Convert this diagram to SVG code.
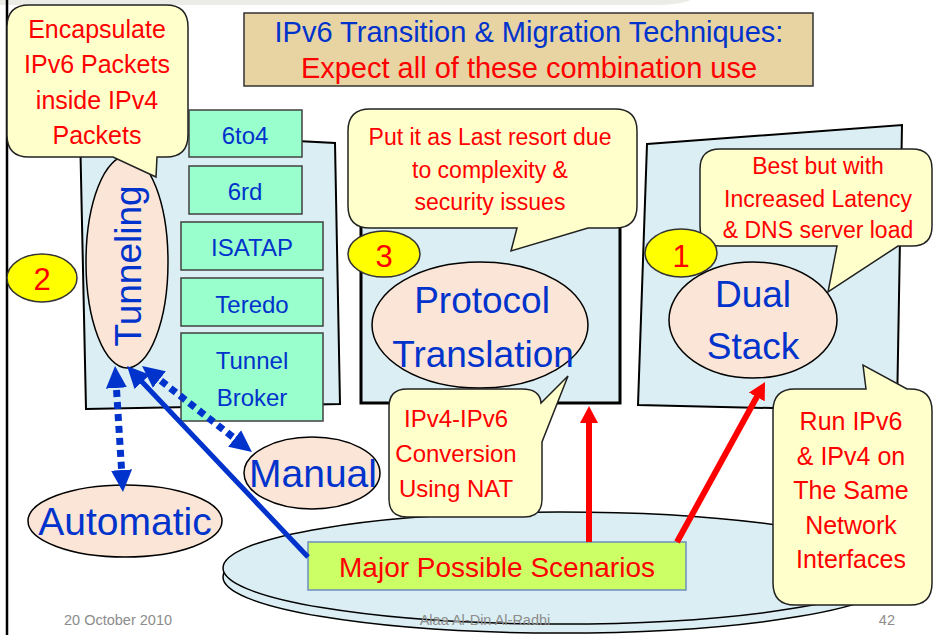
<svg xmlns="http://www.w3.org/2000/svg" width="934" height="635" viewBox="0 0 934 635">
<defs>
<style>
text{font-family:"Liberation Sans",Arial,sans-serif;text-anchor:middle}
.panel{fill:#daeef3;stroke:#000;stroke-width:2}
.box{fill:#99ffcc;stroke:#404040;stroke-width:1.5}
.oval{fill:#fbe5d6;stroke:#000;stroke-width:1.5}
.call{fill:#ffffcc;stroke:#222;stroke-width:1.5}
.num{fill:#ffff00;stroke:#333;stroke-width:1.5}
.b{fill:#0033cc}
.r{fill:#ff0000}
.ft{fill:#8c8c8c;font-size:14.5px}
.redline{stroke:#ff0000;stroke-width:6;fill:none}
.blueline{stroke:#0033cc;stroke-width:5;fill:none}
.dots{stroke:#0033cc;stroke-width:7;stroke-dasharray:7 5;fill:none}
</style>
<marker id="rh" markerUnits="userSpaceOnUse" markerWidth="18" markerHeight="18" refX="7" refY="9" orient="auto">
<path d="M0,0 L17,9 L0,18 Z" fill="#ff0000"/>
</marker>
<marker id="bh" markerUnits="userSpaceOnUse" markerWidth="23" markerHeight="21" refX="10" refY="10.5" orient="auto-start-reverse">
<path d="M0,0 L22,10.5 L0,21 Z" fill="#0033cc"/>
</marker>
</defs>
<rect width="934" height="635" fill="#fff"/>
<path d="M0,0 H690 Q684,4 660,5 H0 Z" fill="#ecece6"/>
<line x1="7" y1="0" x2="7" y2="635" stroke="#000" stroke-width="2.5"/>

<g id="title">
<rect x="244" y="13" width="569" height="73" fill="#e8d3a2" stroke="#333" stroke-width="1.5"/>
<text x="529" y="42" class="b" font-size="29">IPv6 Transition &amp; Migration Techniques:</text>
<text x="529" y="78" class="r" font-size="29">Expect all of these combination use</text>
</g>

<g id="tunneling-panel">
<path class="panel" d="M80,130 L335,143 L340,404 L86,409 Z"/>
</g>
<g id="box-6to4"><rect class="box" x="189" y="110" width="113" height="47"/><text x="245" y="144" class="b" font-size="24">6to4</text></g>
<g id="box-6rd"><rect class="box" x="189" y="166" width="113" height="48"/><text x="245" y="200" class="b" font-size="24">6rd</text></g>
<g id="box-isatap"><rect class="box" x="181" y="222" width="142" height="48"/><text x="252" y="256" class="b" font-size="24">ISATAP</text></g>
<g id="box-teredo"><rect class="box" x="181" y="278" width="142" height="48"/><text x="252" y="313" class="b" font-size="24">Teredo</text></g>
<g id="box-broker"><rect class="box" x="181" y="333" width="142" height="88"/><text x="252" y="369" class="b" font-size="24">Tunnel</text><text x="252" y="406" class="b" font-size="24">Broker</text></g>
<g id="tunneling">
<ellipse class="oval" cx="127" cy="262" rx="41" ry="106"/>
<text transform="translate(141,266) rotate(-90)" class="b" font-size="37">Tunneling</text>
</g>
<g id="callout-encapsulate">
<path class="call" d="M29,5 H166 Q188,5 188,27 V135 Q188,157 166,157 H157 L156,177 L113,157 H29 Q7,157 7,135 V27 Q7,5 29,5 Z"/>
<text x="97" y="38" class="r" font-size="25">Encapsulate</text>
<text x="97" y="73" class="r" font-size="25">IPv6 Packets</text>
<text x="97" y="109" class="r" font-size="25">inside IPv4</text>
<text x="97" y="144" class="r" font-size="25">Packets</text>
</g>
<g id="num-2"><ellipse class="num" cx="42" cy="278" rx="35" ry="24"/><text x="42" y="290" class="r" font-size="31">2</text></g>

<g id="translation-panel">
<rect x="361" y="150" width="259" height="253" fill="#daeef3" stroke="#000" stroke-width="3"/>
</g>
<g id="callout-lastresort">
<path class="call" d="M370,109 H615 Q637,109 637,131 V206 Q637,228 615,228 H588 L511,251 L517,228 H370 Q348,228 348,206 V131 Q348,109 370,109 Z"/>
<text x="490" y="145" class="r" font-size="23">Put it as Last resort due</text>
<text x="490" y="178" class="r" font-size="23">to complexity &amp;</text>
<text x="490" y="210" class="r" font-size="23">security issues</text>
</g>
<g id="num-3"><ellipse class="num" cx="384" cy="254" rx="36" ry="23"/><text x="384" y="267" class="r" font-size="31">3</text></g>
<g id="protocol-translation">
<ellipse class="oval" cx="480" cy="325" rx="108" ry="63"/>
<text x="482" y="313" class="b" font-size="37">Protocol</text>
<text x="483" y="367" class="b" font-size="37">Translation</text>
</g>

<g id="dualstack-panel">
<path class="panel" d="M647,144 L902,125 L897,411 L638,405 Z"/>
</g>
<g id="callout-best">
<path class="call" d="M720,149 H912 Q932,149 932,169 V226 Q932,246 912,246 H898 L828,292 L837,246 H720 Q700,246 700,226 V169 Q700,149 720,149 Z"/>
<text x="818" y="174" class="r" font-size="23">Best but with</text>
<text x="818" y="207" class="r" font-size="23">Increased Latency</text>
<text x="818" y="238" class="r" font-size="23">&amp; DNS server load</text>
</g>
<g id="num-1"><ellipse class="num" cx="681" cy="253" rx="36" ry="24"/><text x="681" y="267" class="r" font-size="31">1</text></g>
<g id="dual-stack">
<ellipse class="oval" cx="753" cy="320" rx="84" ry="58"/>
<text x="753" y="307" class="b" font-size="37">Dual</text>
<text x="753" y="359" class="b" font-size="37">Stack</text>
</g>

<g id="manual"><ellipse class="oval" cx="312" cy="473" rx="68" ry="36"/><text x="313" y="487" class="b" font-size="39">Manual</text></g>
<g id="automatic"><ellipse class="oval" cx="125" cy="521" rx="97" ry="36"/><text x="125" y="535" class="b" font-size="39">Automatic</text></g>

<g id="platform">
<ellipse cx="560" cy="577" rx="337" ry="56" fill="#daeef3" stroke="#000" stroke-width="1.5"/>
<ellipse cx="560" cy="568" rx="337" ry="56" fill="#daeef3" stroke="#000" stroke-width="1.5"/>
</g>
<g id="callout-nat">
<path class="call" d="M407,389 H522 Q540,389 541,403 L568,376 L542,442 V499 Q542,517 524,517 H407 Q389,517 389,499 V407 Q389,389 407,389 Z"/>
<text x="456" y="427" class="r" font-size="24">IPv4-IPv6</text>
<text x="456" y="462" class="r" font-size="24">Conversion</text>
<text x="456" y="497" class="r" font-size="24">Using NAT</text>
</g>
<g id="callout-run">
<path class="call" d="M795,389 H866 L863,365 L907,389 H910 Q932,389 932,411 V583 Q932,605 910,605 H795 Q773,605 773,583 V411 Q773,389 795,389 Z"/>
<text x="851" y="430" class="r" font-size="25">Run IPv6</text>
<text x="851" y="465" class="r" font-size="25">&amp; IPv4 on</text>
<text x="851" y="499" class="r" font-size="25">The Same</text>
<text x="851" y="534" class="r" font-size="25">Network</text>
<text x="851" y="568" class="r" font-size="25">Interfaces</text>
</g>
<g id="scenarios">
<rect x="308" y="542" width="378" height="48" fill="#ccff66" stroke="#6c8ebf" stroke-width="1.5"/>
<text x="497" y="577" class="r" font-size="28">Major Possible Scenarios</text>
</g>

<g id="connectors">
<line class="dots" x1="115.8" y1="378" x2="122.2" y2="480" marker-start="url(#bh)" marker-end="url(#bh)"/>
<line class="dots" x1="151.5" y1="373.4" x2="242.5" y2="444.6" marker-start="url(#bh)" marker-end="url(#bh)"/>
<line class="blueline" x1="308" y1="557" x2="135.3" y2="374.7" marker-end="url(#bh)"/>
<line class="redline" x1="589" y1="542" x2="589" y2="416" marker-end="url(#rh)"/>
<line class="redline" x1="677" y1="542" x2="760.2" y2="390.8" marker-end="url(#rh)"/>
</g>

<g id="footer">
<text x="118" y="625" class="ft">20 October 2010</text>
<text x="485" y="625" class="ft">Alaa Al-Din Al-Radhi</text>
<text x="895" y="625" class="ft" style="text-anchor:end">42</text>
</g>
</svg>
